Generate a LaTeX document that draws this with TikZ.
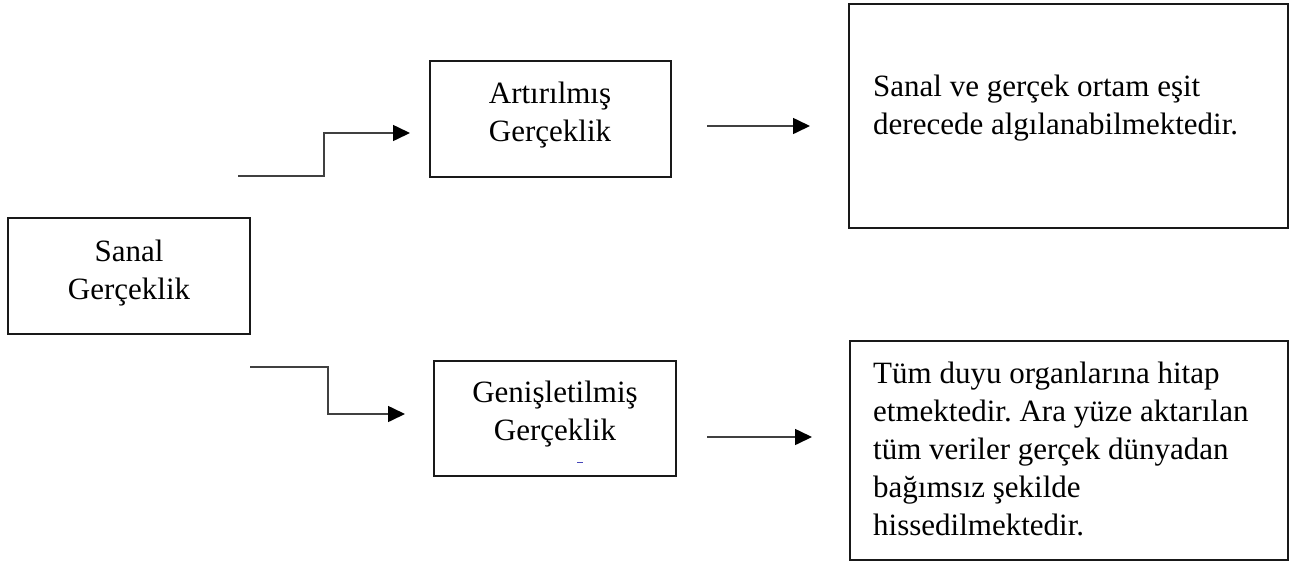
\documentclass[tikz,border=0pt]{standalone}
\usepackage{fontspec}
\setmainfont{Liberation Serif}
\usetikzlibrary{arrows.meta}
\frenchspacing
\begin{document}
\begin{tikzpicture}[x=1pt,y=-1pt,
  box/.style={draw=black!90, line width=2.7pt, anchor=north west, inner sep=0pt, outer sep=0pt},
  txt/.style={font=\fontsize{31}{37.5}\selectfont, inner sep=0pt},
  bigtxt/.style={font=\fontsize{31}{38}\selectfont, inner sep=0pt, align=left, anchor=north west},
  conn/.style={draw=black!75, line width=1.6pt, -{Triangle[length=17pt,width=16pt,color=black]}}]
\useasboundingbox (0,0) rectangle (1291,563);
% boxes
\node[box, minimum width=242pt, minimum height=116pt] (sanal) at (8,218) {};
\node[box, minimum width=241pt, minimum height=116pt] (art) at (430,61) {};
\node[box, minimum width=242pt, minimum height=115pt] (gen) at (434,361) {};
\node[box, minimum width=439pt, minimum height=224pt] (topbox) at (849,4) {};
\node[box, minimum width=438pt, minimum height=219pt] (botbox) at (850,341) {};
% texts
\node[txt, align=center, anchor=north] (sanalt) at (129,240) {Sanal\\Gerçeklik};
\node[txt, align=center, anchor=north] (artt) at (550,82) {Artırılmış\\Gerçeklik};
\node[txt, align=center, anchor=north] (gent) at (555,381) {Genişletilmiş\\Gerçeklik};
\node[bigtxt] (topt) at (873,75) {Sanal ve gerçek ortam eşit\\derecede algılanabilmektedir.};
\node[bigtxt] (bott) at (873,362) {Tüm duyu organlarına hitap\\etmektedir. Ara yüze aktarılan\\tüm veriler gerçek dünyadan\\bağımsız şekilde\\hissedilmektedir.};
% connectors
\coordinate (u1) at (238,176);
\coordinate (u2) at (410,133);
\draw[conn] (u1) -- ++(86,0) |- (u2);
\coordinate (l1) at (250,367);
\coordinate (l2) at (405,414);
\draw[conn] (l1) -- ++(78,0) |- (l2);
\coordinate (r1s) at (707,126);
\coordinate (r1e) at (810,126);
\draw[conn] (r1s) -- (r1e);
\coordinate (r2s) at (707,437);
\coordinate (r2e) at (812,437);
\draw[conn] (r2s) -- (r2e);
% small mark
\draw[blue!45!gray, line width=1pt] (577,462) -- (583,462);
\end{tikzpicture}
\end{document}
